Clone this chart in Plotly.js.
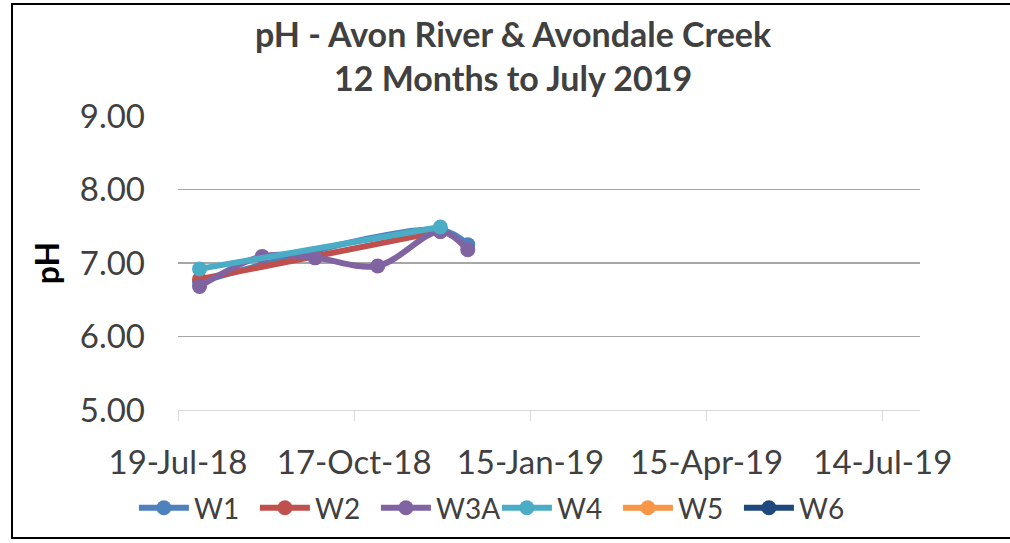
<!DOCTYPE html>
<html>
<head>
<meta charset="utf-8">
<script src="https://cdn.plot.ly/plotly-3.0.1.min.js"></script>
<style>
html,body{margin:0;padding:0;background:#fff;}
#wrap{position:relative;width:1010px;height:543px;overflow:hidden;}
#chart{position:absolute;left:0;top:0;width:1010px;height:543px;}
#frame{position:absolute;left:11px;top:3px;width:1010px;height:536px;border:2px solid #000;box-sizing:border-box;pointer-events:none;}
</style>
</head>
<body>
<div id="wrap"><div id="chart"></div><div id="frame"></div></div>
<script>
// Data (sampling dates and pH values)
const seriesNames = ["W1", "W2", "W3A", "W4", "W5", "W6"];
const seriesColors = ["#4F81BD", "#C0504D", "#8064A2", "#4BACC6", "#F79646", "#1F497D"];

const datesW1 = ["2018-07-30", "2018-11-30", "2018-12-14"];
const phW1 = [6.74, 7.45, 7.25];

const datesW2 = ["2018-07-30", "2018-11-30"];
const phW2 = [6.78, 7.43];

const datesW3A = ["2018-07-30", "2018-08-31", "2018-09-27", "2018-10-29", "2018-11-30", "2018-12-14"];
const phW3A = [6.68, 7.09, 7.07, 6.96, 7.43, 7.18];

const datesW4 = ["2018-07-30", "2018-11-30"];
const phW4 = [6.92, 7.49];

const datesW5 = ["2018-07-30"];
const phW5 = [null];

const datesW6 = ["2018-07-30"];
const phW6 = [null];

const tickDates = ["2018-07-19", "2018-10-17", "2019-01-15", "2019-04-15", "2019-07-14"];
const tickLabels = ["19-Jul-18", "17-Oct-18", "15-Jan-19", "15-Apr-19", "14-Jul-19"];
const yTicks = [5, 6, 7, 8, 9];
const yTickLabels = ["5.00", "6.00", "7.00", "8.00", "9.00"];

const allDates = [datesW1, datesW2, datesW3A, datesW4, datesW5, datesW6];
const allVals = [phW1, phW2, phW3A, phW4, phW5, phW6];

const FONT = 'Lato, "Open Sans", sans-serif';

const traces = seriesNames.map((n, i) => ({
  type: 'scatter',
  mode: 'lines+markers',
  name: n,
  x: allDates[i],
  y: allVals[i],
  line: {color: seriesColors[i], width: 6, shape: 'spline', smoothing: 1},
  marker: {color: seriesColors[i], size: 15},
  connectgaps: false
}));

const layout = {
  width: 1010, height: 543,
  paper_bgcolor: '#fff', plot_bgcolor: '#fff',
  margin: {l: 178, r: 90, t: 116, b: 133},
  font: {family: FONT, color: '#404040'},
  title: {
    text: '<b>pH - Avon River & Avondale Creek<br>12 Months to July 2019</b>',
    font: {family: FONT, size: 34, color: '#404040'},
    x: 0.508, xanchor: 'center', y: 1 - 47 / 543, yanchor: 'middle', yref: 'container'
  },
  xaxis: {
    type: 'date',
    range: ['2018-07-19', '2019-08-02'],
    tickvals: tickDates, ticktext: tickLabels,
    showgrid: false, zeroline: false,
    showline: true, linecolor: '#D9D9D9', linewidth: 1,
    ticks: 'outside', ticklen: 10, tickcolor: '#D9D9D9',
    tickfont: {family: FONT, size: 33, color: '#404040'},
    ticklabelstandoff: 13,
    fixedrange: true
  },
  yaxis: {
    range: [5, 9],
    tickvals: yTicks, ticktext: yTickLabels,
    showgrid: true, gridcolor: '#A6A6A6', gridwidth: 1.5,
    zeroline: false, showline: false, ticks: '',
    tickfont: {family: FONT, size: 33, color: '#404040'},
    ticklabelstandoff: 32,
    title: {text: '<b>pH</b>', font: {family: FONT, size: 32, color: '#000'}, standoff: 10},
    fixedrange: true
  },
  legend: {
    orientation: 'h', xref: 'container', yref: 'container',
    x: 0.492, xanchor: 'center', y: 1 - 508 / 543, yanchor: 'middle',
    font: {family: FONT, size: 28, color: '#404040'},
    itemwidth: 50, entrywidth: 56, entrywidthmode: 'pixels', tracegroupgap: 0
  },
  showlegend: true
};

Plotly.newPlot('chart', traces, layout, {staticPlot: true});
</script>
</body>
</html>
